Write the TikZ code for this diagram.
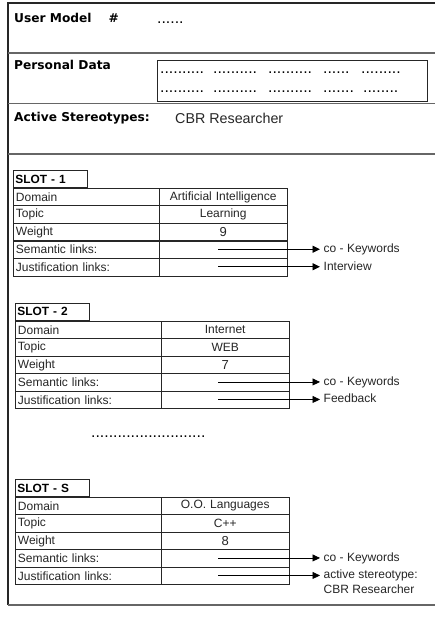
\documentclass[tikz,border=0pt]{standalone}
\usepackage{fontspec}
\setmainfont{Liberation Sans}
\newfontfamily\hdfont{DejaVu Sans}
\usetikzlibrary{arrows.meta}

% one slot: tab, five label/value rows and the two link anchors
% #1 id, #2 left x, #3 table top y, #4 title, #5 domain, #6 topic, #7 weight
\newcommand\slotblock[7]{%
  \node[slottab] (#1tab) at (#2,#3) {#4};
  \foreach \lab [count=\i from 0] in {Domain,Topic,Weight,Semantic links:,Justification links:}
    \node[keycell] (#1l\i) at (#2,#3+\i*17.5) {\lab};
  \node[valcell] (#1r0) at (#2+145.5,#3) {#5};
  \node[valcell] (#1r1) at (#2+145.5,#3+17.5) {#6};
  \node[valcell,font=\fontsize{13}{14}\selectfont] (#1r2) at (#2+145.5,#3+35) {#7};
  \node[valcell] (#1r3) at (#2+145.5,#3+52.5) {};
  \node[valcell] (#1r4) at (#2+145.5,#3+70) {};
  \coordinate (#1sem) at (218,#3+61.25);
  \coordinate (#1jus) at (218,#3+78.75);
}

\begin{document}
\begin{tikzpicture}[x=1pt,y=-1pt,
  frame/.style={draw=black!85,line width=1.1pt},
  divider/.style={draw=black!60,line width=1.2pt},
  head/.style={font=\hdfont\bfseries\fontsize{12.2}{14}\selectfont,inner sep=0pt,anchor=west},
  plain/.style={font=\fontsize{12}{14}\selectfont,inner sep=0pt},
  dotrow/.style={font=\fontsize{15.8}{16}\selectfont,inner sep=0pt,anchor=base west},
  slottab/.style={draw=black!85,line width=0.9pt,anchor=south west,minimum width=74pt,minimum height=16.7pt,
    text width=70pt,align=left,inner xsep=2pt,inner ysep=0pt,
    font=\bfseries\fontsize{11.9}{13}\selectfont},
  keycell/.style={draw=black!85,line width=0.9pt,anchor=north west,minimum width=145.5pt,minimum height=17.5pt,
    text width=140.5pt,align=left,inner xsep=2.5pt,inner ysep=0pt,
    font=\fontsize{12}{14}\selectfont,text=black!85},
  valcell/.style={draw=black!85,line width=0.9pt,anchor=north west,minimum width=128.5pt,minimum height=17.5pt,
    text width=123.5pt,align=center,inner xsep=2.5pt,inner ysep=0pt,
    font=\fontsize{12}{14}\selectfont,text=black!85},
  linklbl/.style={font=\fontsize{12}{14}\selectfont,anchor=west,inner xsep=3.5pt,inner ysep=0pt,
    text height=9pt,text depth=2.5pt,text=black!85},
  linkarrow/.style={draw=black,line width=0.9pt,-{Triangle[length=7.5pt,width=7pt]}}
]
\useasboundingbox (0,0) rectangle (435,617);
\fill[white] (0,0) rectangle (435,617);

% outer frame (open to the right) and section dividers
\coordinate (ftl) at (8,3);
\coordinate (fbl) at (8,605);
\draw[frame] (440,3) -- (ftl) -- (fbl);
\draw[divider] (fbl) -- (440,605);
\draw[divider] (8,53) -- (440,53);
\draw[divider] (8,103.5) -- (440,103.5);
\draw[divider] (8,154) -- (440,154);

% header fields
\node[head] (um) at (14,18.3) {User Model\hspace{17pt}\#};
\node[dotrow] (umv) at (157,23.5) {......};
\node[head] (pd) at (14,65) {Personal Data};
\node[draw=black!85,line width=1pt,anchor=north west,minimum width=270pt,minimum height=41pt,inner sep=0pt] (pdbox) at (157,60) {};
\foreach \gx/\gd [count=\k] in {160/{..........},213/{..........},268/{..........},323/{......},361/{.........}}
  \node[dotrow] (pda\k) at (\gx,73.5) {\gd};
\foreach \gx/\gd [count=\k] in {160/{..........},213/{..........},268/{..........},323/{.......},363/{........}}
  \node[dotrow] (pdb\k) at (\gx,92.5) {\gd};
\node[head] (as) at (14,118.3) {Active Stereotypes:};
\node[plain,anchor=west,font=\fontsize{14.3}{16}\selectfont,text=black!85] (asv) at (175,118.3) {CBR Researcher};

% slots
\slotblock{s1}{13}{188}{SLOT - 1}{Artificial Intelligence}{Learning}{9}
\slotblock{s2}{15}{320.7}{SLOT - 2}{Internet}{WEB}{7}
\node[dotrow] (more) at (91,437.5) {..........................};
\slotblock{s3}{15}{496.7}{SLOT - S}{O.O. Languages}{C++}{8}

% link targets
\node[linklbl] (s1kw) at (320,249.25) {co - Keywords};
\node[linklbl] (s1iv) at (320,266.75) {Interview};
\node[linklbl] (s2kw) at (320,381.95) {co - Keywords};
\node[linklbl] (s2fb) at (320,399.45) {Feedback};
\node[linklbl] (s3kw) at (320,557.95) {co - Keywords};
\node[linklbl] (s3as) at (320,575.45) {active stereotype:};
\node[linklbl] (s3cbr) at (320,590) {CBR Researcher};

\draw[linkarrow] (s1sem) -- (s1sem -| s1kw.west);
\draw[linkarrow] (s1jus) -- (s1jus -| s1iv.west);
\draw[linkarrow] (s2sem) -- (s2sem -| s2kw.west);
\draw[linkarrow] (s2jus) -- (s2jus -| s2fb.west);
\draw[linkarrow] (s3sem) -- (s3sem -| s3kw.west);
\draw[linkarrow] (s3jus) -- (s3jus -| s3as.west);
\end{tikzpicture}
\end{document}
